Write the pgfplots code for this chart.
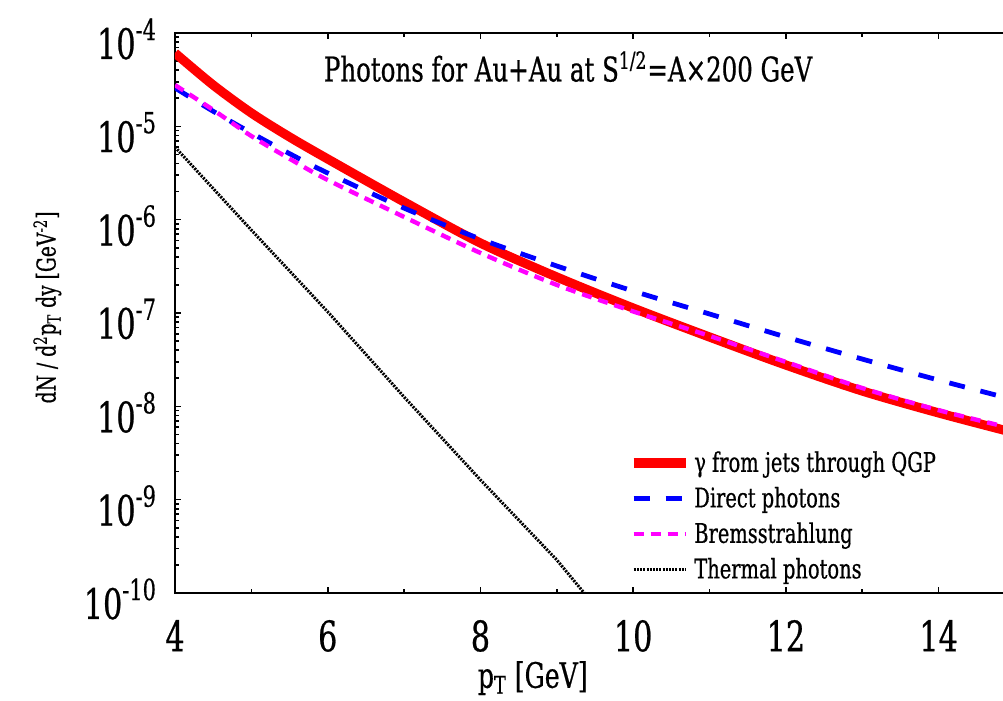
\documentclass[border=0pt]{standalone}
\usepackage{fontspec}
\setmainfont{DejaVu Serif Condensed}[FakeStretch=0.8, FakeBold=0.6]
\usepackage{pgfplots}
\usepackage{pgfplotstable}
\pgfplotsset{compat=1.18}
\usetikzlibrary{calc}
\newcommand\sups[1]{\raisebox{0.45em}{\fontsize{14.5}{14.5}\selectfont #1}}

\pgfplotstableread{
x    red      blue     mag
4    6.1e-5   2.58e-5  2.77e-5
4.5  2.77e-5  1.45e-5  1.50e-5
5    1.39e-5  8.5e-6   7.87e-6
5.5  7.7e-6   5.1e-6   4.5e-6
6    4.47e-6  3.16e-6  2.66e-6
7    1.55e-6  1.33e-6  1.07e-6
8    5.62e-7  6.2e-7   4.4e-7
9    2.43e-7  3.19e-7  2.0e-7
10   1.13e-7  1.72e-7  1.04e-7
11   5.53e-8  9.76e-8  5.68e-8
12   2.77e-8  5.53e-8  2.99e-8
13   1.46e-8  3.21e-8  1.57e-8
14   8.5e-9   1.91e-8  9.1e-9
15   5.18e-9  1.17e-8  5.7e-9
}\mainData

\pgfplotstableread{
x    th
4    6.0e-6
5    7.74e-7
6    1.03e-7
7    1.26e-8
8    1.63e-9
9    2.26e-10
9.4  9.1e-11
}\thermData

\definecolor{cred}{RGB}{255,0,0}
\definecolor{cblue}{RGB}{0,0,255}
\definecolor{cmag}{RGB}{255,0,255}

\begin{document}
\begin{tikzpicture}
\begin{axis}[
  scale only axis,
  width=420pt, height=280pt,
  xmin=4, xmax=15,
  ymin=1e-10, ymax=1e-4,
  ymode=log,
  xtick={4,6,...,14},
  minor xtick={5,7,...,15},
  ytick={1e-10,1e-9,1e-8,1e-7,1e-6,1e-5,1e-4},
  yticklabels={10\sups{-10},10\sups{-9},10\sups{-8},10\sups{-7},10\sups{-6},10\sups{-5},10\sups{-4}},
  tick align=inside,
  major tick length=3pt,
  minor tick length=2pt,
  axis line style={line width=1.4pt},
  every tick/.style={black, line width=0.8pt},
  xticklabel style={font=\fontsize{21}{21}\selectfont, yshift=-10pt, /pgf/number format/assume math mode=true},
  yticklabel style={font=\fontsize{21}{21}\selectfont, xshift=-6pt, yshift=-3pt},
  xlabel={p\textsubscript{T} [GeV]},
  xlabel style={font=\fontsize{17.5}{17.5}\selectfont, at={(axis description cs:0.426,-0.152)}, anchor=center},
  ylabel={dN / d\textsuperscript{2}p\textsubscript{T} dy [GeV\textsuperscript{-2}]},
  ylabel style={font=\fontsize{13}{13}\selectfont, at={(axis description cs:-0.152,0.51)}, anchor=center, rotate=0},
  legend style={at={(axis description cs:0.533,0.268)}, anchor=north west, draw=none, fill=none,
    font=\fontsize{13.5}{14}\selectfont, row sep=2pt},
  legend cell align=left,
  legend image code/.code={\draw[#1] (0pt,0pt) -- (26pt,0pt);},
]
\addplot[cred, line width=4.6pt, smooth] table[x=x, y=red] {\mainData};
\addlegendentry{γ from jets through QGP}
\addplot[cblue, line width=2.4pt, dash pattern=on 8pt off 8pt, smooth] table[x=x, y=blue] {\mainData};
\addlegendentry{Direct photons}
\addplot[cmag, line width=2.2pt, dash pattern=on 5pt off 3.5pt, smooth] table[x=x, y=mag] {\mainData};
\addlegendentry{Bremsstrahlung}
\addplot[black, line width=1.5pt, dash pattern=on 1pt off 0.6pt] table[x=x, y=th] {\thermData};
\addlegendentry{Thermal photons}
\node[font=\fontsize{17}{17}\selectfont, anchor=center] at (axis description cs:0.468,0.94) {Photons for Au+Au at S\textsuperscript{1/2}=A×200 GeV};
\coordinate (O) at (rel axis cs:0,0);
\end{axis}
\pgfresetboundingbox
\path[use as bounding box] ($(O)+(-87.5pt,-54pt)$) rectangle ($(O)+(414pt,296.5pt)$);
\end{tikzpicture}
\end{document}
